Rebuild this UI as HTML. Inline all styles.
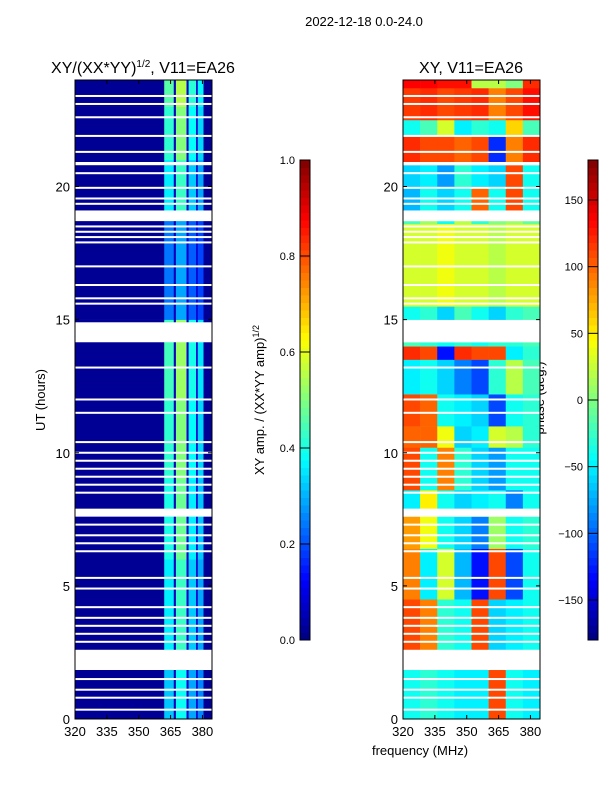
<!DOCTYPE html>
<html><head><meta charset="utf-8"><style>
body{margin:0;background:#fff;}
svg text{font-family:"Liberation Sans","DejaVu Sans",sans-serif;fill:#000;}
</style></head><body>
<svg id="fig" width="600" height="800" xmlns="http://www.w3.org/2000/svg">
<text x="364" y="26" font-size="13" text-anchor="middle">2022-12-18 0.0-24.0</text>
<text x="143" y="73" font-size="16" text-anchor="middle">XY/(XX*YY)<tspan font-size="10" dy="-6">1/2</tspan><tspan dy="6">, V11=EA26</tspan></text>
<text x="471" y="73" font-size="16" text-anchor="middle">XY, V11=EA26</text>
<text transform="translate(45,400) rotate(-90)" font-size="13" text-anchor="middle">UT (hours)</text>
<text x="420" y="755" font-size="13" text-anchor="middle">frequency (MHz)</text>
<text transform="translate(264,400) rotate(-90)" font-size="13" text-anchor="middle">XY amp. / (XX*YY amp)<tspan font-size="9" dy="-5">1/2</tspan></text>
<text transform="translate(544,398) rotate(-90)" font-size="13" text-anchor="middle">phase (deg.)</text>
<g id="L"></g><g id="R"></g><g id="C"></g>
</svg>
<script>
// ---- data ----
const utRange=[0,24];
const freqRange=[320,384.5];
const freqTicks=[320,335,350,365,380];
const utTicks=[0,5,10,15,20];
const ampTicks=[0.0,0.2,0.4,0.6,0.8,1.0];
const phaseTicks=[-150,-100,-50,0,50,100,150];
// big gaps [start,end] UT
const bigGaps=[[1.84,2.6],[7.6,7.9],[14.15,14.9],[18.7,19.1],[20.8,20.92]];
// thin gaps UT
const thinGaps=[23.4,23.1,22.6,21.9,21.3,20.5,19.95,19.55,19.35,18.5,18.3,18.1,17.9,17.0,16.3,15.8,15.6,13.2,12.0,11.5,10.4,10.0,9.7,9.4,9.1,8.8,8.5,7.3,6.9,6.6,6.3,5.3,4.9,4.2,3.8,3.5,3.2,2.9,1.5,1.1,0.8,0.35];
// amplitude: column freq edges and values
const ampColEdges=[320,362,366.5,367.5,372.5,373.5,377,377.8,380.5,384.5];
const ampColVals=[0.02,0.4,0.06,0.48,0.08,0.36,0.08,0.32,0.02];
const ampBandStarts=[0,2.6,6,9,12,15,19.1,21,23];
const ampBandScale=[0.8,0.9,1.0,1.05,1.1,0.6,0.9,1.05,1.15];
// phase bands: start UT, end UT, 8 column phases
const phaseBandStart=[0,2.6,4.5,6.4,7.9,8.6,10.2,11.0,12.2,13.5,14.0,15.0,15.5,18.6,19.1,20.0,20.9,21.9,22.5,23.7];
const phaseBandEnd=[1.84,4.5,6.4,7.6,8.6,10.2,11.0,12.2,13.5,14.0,14.15,15.5,18.6,18.7,20.0,20.8,21.9,22.5,23.7,24];
const phaseVals=[
[-40,-30,-40,-50,-50,110,-40,-50],
[110,90,-30,-40,110,-60,-50,-40],
[90,-50,30,-70,-130,110,-110,-40],
[80,40,-40,-60,-90,10,-40,-30],
[-50,50,-40,-60,-50,-40,-90,-40],
[110,-40,90,-30,-60,-80,-40,-40],
[100,100,40,-60,-50,30,20,-30],
[110,100,-40,-50,-60,-110,-40,-30],
[-50,-40,-60,-90,-110,-30,20,-20],
[120,110,-130,120,110,110,-50,-30],
[-20,-30,-40,-30,-40,-30,-30,-20],
[-40,-30,-60,-20,-40,-60,-30,-20],
[30,30,40,30,30,20,30,30],
[-20,10,-40,20,-30,0,10,-10],
[-70,-40,-60,-40,100,-40,110,-40],
[-60,-50,-80,-30,-50,-60,110,-40],
[120,110,110,100,110,-120,90,120],
[-40,-20,30,-50,-30,-40,60,-20],
[115,120,110,115,120,90,110,130],
[135,135,130,130,20,20,0,120]];

// ---- helpers ----
const NS="http://www.w3.org/2000/svg";
function jet(v){v=Math.max(0,Math.min(1,v));
 const r=Math.max(0,Math.min(1,1.5-Math.abs(4*v-3))),g=Math.max(0,Math.min(1,1.5-Math.abs(4*v-2))),b=Math.max(0,Math.min(1,1.5-Math.abs(4*v-1)));
 return `rgb(${Math.round(r*255)},${Math.round(g*255)},${Math.round(b*255)})`;}
function mk(parent,tag,attrs){const e=document.createElementNS(NS,tag);for(const k in attrs)e.setAttribute(k,attrs[k]);parent.appendChild(e);return e;}
const Y0=719,Y1=80;
function yScale(t){return Y0-(t-utRange[0])/(utRange[1]-utRange[0])*(Y0-Y1);}
function xScale(f,x0){return x0+(f-freqRange[0])/(freqRange[1]-freqRange[0])*137;}

function axes(g,x0,name){
 for(const t of freqTicks){const x=xScale(t,x0);
  const l=mk(g,'line',{x1:x,x2:x,y1:Y0,y2:Y0-4,stroke:'#000'});
  
  
  mk(g,'line',{x1:x,x2:x,y1:Y1,y2:Y1+4,stroke:'#000'});
  const tx=mk(g,'text',{x:x,y:Y0+17,'font-size':13,'text-anchor':'middle'});tx.textContent=t;
  
  }
 for(const t of utTicks){const y=yScale(t);
  mk(g,'line',{x1:x0,x2:x0+4,y1:y,y2:y,stroke:'#000'});
  mk(g,'line',{x1:x0+137,x2:x0+133,y1:y,y2:y,stroke:'#000'});
  const tx=mk(g,'text',{x:x0-5,y:y+5,'font-size':13,'text-anchor':'end'});tx.textContent=t;
  
  }
 const f=mk(g,'rect',{x:x0,y:Y1,width:137,height:Y0-Y1,fill:'none',stroke:'#000'});
 
 
}
function gaps(g,x0){
 for(const [a,b] of bigGaps){mk(g,'rect',{x:x0,y:yScale(b),width:137,height:yScale(a)-yScale(b),fill:'#fff'});}
 for(const t of thinGaps){mk(g,'rect',{x:x0,y:yScale(t)-1,width:137,height:2,fill:'#fff'});}
}
// ---- amplitude panel ----
const L=document.getElementById('L');
for(let b=0;b<ampBandStarts.length;b++){
 const t0=ampBandStarts[b],t1=b+1<ampBandStarts.length?ampBandStarts[b+1]:24;
 for(let c=0;c<ampColVals.length;c++){
  const v=ampColVals[c]>0.2?ampColVals[c]*ampBandScale[b]:ampColVals[c];
  const xa=xScale(ampColEdges[c],75),xb=xScale(ampColEdges[c+1],75);
  const r=mk(L,'rect',{x:xa,y:yScale(t1),width:xb-xa+0.3,height:yScale(t0)-yScale(t1)+0.3,fill:jet(v)});
  
  }
}
gaps(L,75);axes(L,75,'amp');
// ---- phase panel ----
const R=document.getElementById('R');
for(let b=0;b<phaseVals.length;b++){
 const t0=phaseBandStart[b],t1=phaseBandEnd[b],n=phaseVals[b].length;
 for(let c=0;c<n;c++){
  const fa=freqRange[0]+(freqRange[1]-freqRange[0])*c/n,fb=freqRange[0]+(freqRange[1]-freqRange[0])*(c+1)/n;
  const xa=xScale(fa,403),xb=xScale(fb,403);
  const r=mk(R,'rect',{x:xa,y:yScale(t1),width:xb-xa+0.3,height:yScale(t0)-yScale(t1)+0.3,fill:jet((phaseVals[b][c]+180)/360)});
  
  }
}
gaps(R,403);axes(R,403,'phase');
// ---- colorbars ----
const C=document.getElementById('C');
function cbar(x,name,ticks,lo,hi){
 const g=mk(C,'g',{});
 
 
 const n=64;for(let i=0;i<n;i++){const y=640-(i+1)*480/n;mk(g,'rect',{x:x,y:y,width:10,height:480/n+0.5,fill:jet((i+0.5)/n)});}
 mk(g,'rect',{x:x,y:160,width:10,height:480,fill:'none',stroke:'#000'});
 for(const t of ticks){const y=640-(t-lo)/(hi-lo)*480;
  mk(g,'line',{x1:x,x2:x+10,y1:y,y2:y,stroke:'#000'});
  const tx=mk(g,'text',{x:x-5,y:y+4,'font-size':11,'text-anchor':'end'});tx.textContent=(hi<=1?t.toFixed(1):(t<0?'\u2212'+(-t):t));
  
  }
}
cbar(300,'amp-colorbar',ampTicks,0,1);
cbar(588,'phase-colorbar',phaseTicks,-180,180);
</script>
</body></html>
